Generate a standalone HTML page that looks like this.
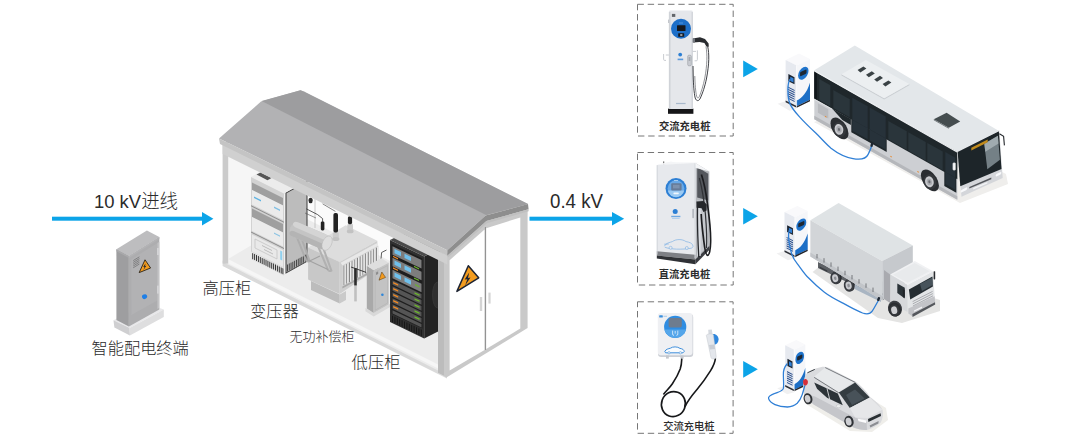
<!DOCTYPE html>
<html lang="zh-CN">
<head>
<meta charset="utf-8">
<title>充电站配电系统示意图</title>
<style>
html,body{margin:0;padding:0;background:#fff;}
body{width:1080px;height:439px;overflow:hidden;}
svg{display:block;}
text{font-family:"Liberation Sans","Noto Sans CJK SC",sans-serif;fill:#2b2b2b;}
.lt{font-weight:300;}
.md{font-weight:500;}
</style>
</head>
<body>
<svg width="1080" height="439" viewBox="0 0 1080 439">
<rect width="1080" height="439" fill="#ffffff"/>
<!-- building -->
<g>
  <!-- floor slab front thickness -->
  <polygon points="222.6,260.6 447,372.8 447,378.6 222.6,266" fill="#dadada"/>
  <!-- interior left wall + back wall -->
  <polygon points="227,143 301,100 301,216 227,262" fill="#f6f6f6"/>
  <polygon points="301,100 525,212 525,329 301,216" fill="#fbfbfb"/>
  <!-- floor -->
  <polygon points="223,262 301,216 525,329 447,375" fill="#ececec"/>
  <!-- white sill strip along the front of floor -->
  <polygon points="223,256.6 447,369 447,373 223,260.8" fill="#f6f6f6"/>
  <!-- left post -->
  <rect x="222.6" y="142" width="5.6" height="121.6" fill="#cbcbcb"/>
</g>

<!-- equip -->
<g>
  <!-- back wall details -->
  <line x1="315" y1="196" x2="315" y2="228" stroke="#bdbdbd" stroke-width="0.8"/>
  <ellipse cx="310.6" cy="200.5" rx="2.1" ry="2.7" fill="#2b2b2b"/>

  <!-- ===== HV cabinet ===== -->
  <g>
    <!-- right side face -->
    <g transform="matrix(1,-0.55,0,1,284,193.5)">
      <rect x="0" y="0" width="23" height="81" fill="#bcbcbc"/>
      <rect x="0" y="0" width="2" height="81" fill="#f1f1f1"/>
      <rect x="2" y="0.5" width="21" height="80" fill="none" stroke="#3c3c3c" stroke-width="1"/>
      <g fill="#3a3a3a">
        <rect x="3" y="73" width="0.9" height="7"/><rect x="4.8" y="73" width="0.9" height="7"/><rect x="6.6" y="73" width="0.9" height="7"/><rect x="8.4" y="73" width="0.9" height="7"/><rect x="10.2" y="73" width="0.9" height="7"/><rect x="12" y="73" width="0.9" height="7"/><rect x="13.8" y="73" width="0.9" height="7"/><rect x="15.6" y="73" width="0.9" height="7"/><rect x="17.4" y="73" width="0.9" height="7"/><rect x="19.2" y="73" width="0.9" height="7"/><rect x="21" y="73" width="0.9" height="7"/>
      </g>
    </g>
    <!-- top face -->
    <polygon points="251,177 273,164.8 307,180.8 284,193.5" fill="#ececec"/>
    <polygon points="256.5,174.6 260.5,172.4 271.5,178 267.5,180.2" fill="#555"/>
    <!-- front face -->
    <g transform="matrix(1,0.5,0,1,251,177)">
      <rect x="0" y="0" width="33" height="82" fill="#d2d2d2"/>
      <rect x="1" y="5" width="31" height="7.5" fill="#9f9f9f"/>
      <rect x="1" y="12.5" width="31" height="14.5" fill="#ebebeb"/>
      <rect x="3" y="18" width="7" height="1.6" fill="#5fb3e2"/>
      <rect x="23" y="18" width="6" height="1.4" fill="#7fbfe4"/>
      <rect x="0" y="28.2" width="33" height="1" fill="#8a8a8a"/>
      <rect x="1" y="31" width="31" height="8.5" fill="#9f9f9f"/>
      <rect x="1" y="39.5" width="31" height="14" fill="#ebebeb"/>
      <rect x="23" y="44" width="6" height="1.3" fill="#8cc4e4"/>
      <rect x="0" y="54.6" width="33" height="1" fill="#8a8a8a"/>
      <rect x="1" y="57" width="31" height="17" fill="#e9e9e9"/>
      <rect x="4" y="60" width="22" height="9" fill="none" stroke="#c4c4c4" stroke-width="0.7"/>
      <rect x="11" y="62.5" width="10" height="1" fill="#bdbdbd"/><rect x="13" y="65.5" width="9" height="1" fill="#bdbdbd"/>
      <rect x="29.2" y="59" width="2" height="9" fill="#8fd0ee"/>
      <rect x="0" y="74.5" width="33" height="7.5" fill="#e8e8e8"/>
      <g fill="#333">
        <rect x="1.2" y="75.3" width="1" height="6"/><rect x="3.1" y="75.3" width="1" height="6"/><rect x="5" y="75.3" width="1" height="6"/><rect x="6.9" y="75.3" width="1" height="6"/><rect x="8.8" y="75.3" width="1" height="6"/><rect x="10.7" y="75.3" width="1" height="6"/><rect x="12.6" y="75.3" width="1" height="6"/><rect x="14.5" y="75.3" width="1" height="6"/><rect x="16.4" y="75.3" width="1" height="6"/><rect x="18.3" y="75.3" width="1" height="6"/><rect x="20.2" y="75.3" width="1" height="6"/><rect x="22.1" y="75.3" width="1" height="6"/><rect x="24" y="75.3" width="1" height="6"/><rect x="25.9" y="75.3" width="1" height="6"/><rect x="27.8" y="75.3" width="1" height="6"/><rect x="29.7" y="75.3" width="1" height="6"/><rect x="31.4" y="75.3" width="1" height="6"/>
      </g>
    </g>
  </g>

  <!-- ===== Transformer ===== -->
  <g>
    <!-- wires -->
    <path d="M306.3,208.8 L317.6,214.6 L322.6,218.6 L322.6,222" fill="none" stroke="#333" stroke-width="0.8"/>
    <path d="M322.6,203.8 L335.4,211.4" fill="none" stroke="#555" stroke-width="0.7"/>
    <path d="M305,213 L316,218" fill="none" stroke="#555" stroke-width="0.6"/>
    <!-- main tank -->
    <polygon points="308.1,247.6 345.7,225.3 377.3,240.7 339.7,262" fill="#dddddd"/>
    <polygon points="308.1,247.6 339.7,262 339.7,294 308.1,279.6" fill="#c8c8c8"/>
    <polygon points="339.7,262 377.3,240.7 378.2,268 339.7,294" fill="#cecece"/>
    <polygon points="311,281 339.7,294.4 339.7,303.4 311,290" fill="#bcbcbc"/>
    <polygon points="339.7,294.4 346,291 346,300 339.7,303.4" fill="#cacaca"/>
    <!-- radiator block -->
    <polygon points="340.6,262.8 376.6,243.2 378.4,245.8 342.4,265.6" fill="#e8e8e8"/>
    <g transform="matrix(1,-0.55,0,1,342.4,265.6)">
      <rect x="0" y="0" width="36" height="21" fill="#d4d4d4"/>
      <g fill="#7d7d7d"><rect x="1.2" y="0.8" width="0.9" height="19.6"/><rect x="3.9" y="0.8" width="0.9" height="19.6"/><rect x="6.6" y="0.8" width="0.9" height="19.6"/><rect x="9.3" y="0.8" width="0.9" height="19.6"/><rect x="12.0" y="0.8" width="0.9" height="19.6"/><rect x="14.7" y="0.8" width="0.9" height="19.6"/><rect x="17.4" y="0.8" width="0.9" height="19.6"/><rect x="20.1" y="0.8" width="0.9" height="19.6"/><rect x="22.8" y="0.8" width="0.9" height="19.6"/><rect x="25.5" y="0.8" width="0.9" height="19.6"/><rect x="28.2" y="0.8" width="0.9" height="19.6"/><rect x="30.9" y="0.8" width="0.9" height="19.6"/><rect x="33.6" y="0.8" width="0.9" height="19.6"/></g>
      <g fill="#efefef"><rect x="2.2" y="0.8" width="0.9" height="19.6"/><rect x="4.9" y="0.8" width="0.9" height="19.6"/><rect x="7.6" y="0.8" width="0.9" height="19.6"/><rect x="10.3" y="0.8" width="0.9" height="19.6"/><rect x="13.0" y="0.8" width="0.9" height="19.6"/><rect x="15.7" y="0.8" width="0.9" height="19.6"/><rect x="18.4" y="0.8" width="0.9" height="19.6"/><rect x="21.1" y="0.8" width="0.9" height="19.6"/><rect x="23.8" y="0.8" width="0.9" height="19.6"/><rect x="26.5" y="0.8" width="0.9" height="19.6"/><rect x="29.2" y="0.8" width="0.9" height="19.6"/><rect x="31.9" y="0.8" width="0.9" height="19.6"/><rect x="34.6" y="0.8" width="0.9" height="19.6"/></g>
    </g>
    <polygon points="342.4,286.6 378.4,266.8 378.4,268.8 342.4,288.6" fill="#a9a9a9"/>
    <!-- bushing bases -->
    <rect x="332.8" y="232" width="6" height="6.6" rx="1.6" fill="#cbcbcb"/><ellipse cx="335.8" cy="239" rx="3.6" ry="2" fill="#c2c2c2"/>
    <rect x="347.4" y="223.6" width="5.6" height="7.4" rx="1.6" fill="#cbcbcb"/><ellipse cx="350.2" cy="231.4" rx="3.4" ry="1.9" fill="#c2c2c2"/>
    <!-- bushings -->
    <rect x="320.8" y="221.4" width="3.6" height="9" rx="1.4" fill="#232323"/>
    <rect x="333.4" y="213" width="4.6" height="19.6" rx="1.8" fill="#232323"/>
    <rect x="347.9" y="216.2" width="4.2" height="8" rx="1.6" fill="#232323"/>
    <!-- conservator supports -->
    <path d="M296.4,236 L305.6,259 Q306.6,262.4 309.6,261 M301.6,238.4 L309.6,261" stroke="#adadad" stroke-width="2" fill="none" stroke-linecap="round"/>
    <path d="M318.4,247 L327.6,269 Q328.8,272 331.4,270.6 M323.8,249.6 L331.4,270.6" stroke="#b1b1b1" stroke-width="2" fill="none" stroke-linecap="round"/>
    <path d="M309.6,261 L320,256 M305.6,259 L328,269.6" stroke="#a2a2a2" stroke-width="1.1" fill="none"/>
    <!-- conservator cylinder -->
    <g transform="rotate(23.4 310 235.8)">
      <rect x="288.6" y="228.2" width="42" height="15.2" rx="7.4" fill="#c4c4c4"/>
      <rect x="290" y="238" width="39" height="5.4" rx="3.6" fill="#b4b4b4"/>
      <rect x="289.6" y="228.2" width="40" height="5.6" rx="4" fill="#d4d4d4"/>
      <ellipse cx="328.6" cy="235.8" rx="4.6" ry="7.6" fill="#dedede" stroke="#b9b9b9" stroke-width="0.5"/>
    </g>
    <!-- pole in front of radiator -->
    <rect x="354.2" y="268" width="2.6" height="18" rx="0.8" fill="#2c2c2c"/>
    <rect x="354.2" y="285.4" width="2.6" height="16" fill="#c0c0c0"/>
    <path d="M351,267 L366.2,272.4" stroke="#2c2c2c" stroke-width="0.9" fill="none"/>
  </g>

  <!-- ===== compensation cabinet ===== -->
  <g>
    <path d="M381,259 L381.6,252.5 L386.5,250" stroke="#333" stroke-width="0.8" fill="none"/>
    <!-- base -->
    <polygon points="365.4,308 373.7,313 390.2,303.8 390.2,307 373.7,316.4 365.4,311.2" fill="#d9d9d9"/>
    <polygon points="366.8,266 381.3,258.3 388.7,262.7 373.7,270.4" fill="#dedede"/>
    <polygon points="366.8,266 373.7,270.4 373.7,313 366.8,308.6" fill="#a9a9a9"/>
    <polygon points="373.7,270.4 388.7,262.7 388.7,304.4 373.7,313" fill="#c3c3c3"/>
    <polygon points="375.2,272 387.6,265.6 387.6,303 375.2,310.2" fill="none" stroke="#b2b2b2" stroke-width="0.6"/>
    <rect x="376" y="272.4" width="2.2" height="2.6" fill="#8d8d8d" transform="skewY(-27)" style="transform-origin:376px 272.4px"/>
    <polygon points="381.8,272 385.6,277.4 379,280.2" fill="#f39a1e" stroke="#4a3312" stroke-width="0.5"/>
    <circle cx="382.4" cy="294.7" r="1.3" fill="#2f86d8"/>
  </g>

  <!-- ===== LV rack ===== -->
  <g>
    <!-- side face -->
    <polygon points="424.2,256.4 440,248.5 440,330.5 424.2,338.6" fill="#232323"/>
    <ellipse cx="437.5" cy="295" rx="5" ry="13" fill="#2f2f2f" stroke="#3d3d3d" stroke-width="0.6"/>
    <!-- top -->
    <polygon points="390,240 406,232 440,248.5 424.2,256.4" fill="#4a4a4a"/>
    <!-- front -->
    <g transform="matrix(1,0.48,0,1,390,240)">
      <rect x="0" y="0" width="34.2" height="82" fill="#303030"/>
      <rect x="1.5" y="3" width="31" height="70" fill="#1e1e1e"/>
      <!-- unit 1 -->
      <rect x="2.5" y="5" width="29" height="8.5" fill="#7d7d7d"/>
      <rect x="4.5" y="6.8" width="6.5" height="4.2" fill="#6fc0ec"/><rect x="14.5" y="6.8" width="6.5" height="4.2" fill="#6fc0ec"/>
      <rect x="3" y="14.3" width="5" height="1.3" fill="#f08a24"/><rect x="24" y="14.3" width="5" height="1.3" fill="#6cb52d"/>
      <!-- unit 2 -->
      <rect x="2.5" y="16.6" width="29" height="8.5" fill="#7d7d7d"/>
      <rect x="4.5" y="18.4" width="6.5" height="4.2" fill="#6fc0ec"/><rect x="14.5" y="18.4" width="6.5" height="4.2" fill="#6fc0ec"/>
      <rect x="3" y="25.9" width="5" height="1.3" fill="#f08a24"/><rect x="24" y="25.9" width="5" height="1.3" fill="#6cb52d"/>
      <!-- unit 3 -->
      <rect x="2.5" y="28.6" width="29" height="8.5" fill="#7d7d7d"/>
      <rect x="4.5" y="30.4" width="6.5" height="4.2" fill="#6fc0ec"/><rect x="14.5" y="30.4" width="6.5" height="4.2" fill="#6fc0ec"/>
      <rect x="25" y="32" width="4.5" height="1.3" fill="#6cb52d"/>
      <!-- small units -->
      <g>
        <rect x="2.5" y="39" width="29" height="4.6" fill="#555"/><rect x="3.2" y="40.4" width="5" height="1.5" fill="#f08a24"/><rect x="24.5" y="40.4" width="5" height="1.5" fill="#6cb52d"/>
        <rect x="2.5" y="45" width="29" height="4.6" fill="#555"/><rect x="3.2" y="46.4" width="5" height="1.5" fill="#f08a24"/><rect x="24.5" y="46.4" width="5" height="1.5" fill="#6cb52d"/>
        <rect x="2.5" y="51" width="29" height="4.6" fill="#555"/><rect x="3.2" y="52.4" width="5" height="1.5" fill="#f08a24"/><rect x="24.5" y="52.4" width="5" height="1.5" fill="#6cb52d"/>
        <rect x="2.5" y="57" width="29" height="4.6" fill="#555"/><rect x="3.2" y="58.4" width="5" height="1.5" fill="#f08a24"/><rect x="24.5" y="58.4" width="5" height="1.5" fill="#6cb52d"/>
        <rect x="2.5" y="63" width="29" height="4.6" fill="#555"/><rect x="3.2" y="64.4" width="5" height="1.5" fill="#f08a24"/><rect x="24.5" y="64.4" width="5" height="1.5" fill="#6cb52d"/>
        <rect x="2.5" y="69" width="29" height="3.4" fill="#555"/>
      </g>
      <!-- bottom vent -->
      <g fill="#161616">
        <rect x="2" y="74.5" width="1" height="6.5"/><rect x="4.4" y="74.5" width="1" height="6.5"/><rect x="6.8" y="74.5" width="1" height="6.5"/><rect x="9.2" y="74.5" width="1" height="6.5"/><rect x="11.6" y="74.5" width="1" height="6.5"/><rect x="14" y="74.5" width="1" height="6.5"/><rect x="16.4" y="74.5" width="1" height="6.5"/><rect x="18.8" y="74.5" width="1" height="6.5"/><rect x="21.2" y="74.5" width="1" height="6.5"/><rect x="23.6" y="74.5" width="1" height="6.5"/><rect x="26" y="74.5" width="1" height="6.5"/><rect x="28.4" y="74.5" width="1" height="6.5"/><rect x="30.8" y="74.5" width="1" height="6.5"/>
      </g>
    </g>
  </g>
</g>

<!-- shell -->
<g>
  <!-- right end wall -->
  <polygon points="438,251 444,254 444,375.8 438,372.8" fill="#bcbcbc"/>
  <polygon points="444,256 486.5,221 527.6,209.4 527.6,328 446.4,377.6 444,376" fill="#c9c9c9"/>
  <!-- doors -->
  <polygon points="449.6,260.2 484.6,229.4 484.6,350 449.6,370.5" fill="#ffffff"/>
  <polygon points="486.2,228.2 520.3,217.4 520.3,328.5 486.2,349" fill="#ffffff"/>
  <line x1="485.4" y1="227" x2="485.4" y2="350" stroke="#8d8d8d" stroke-width="1"/>
  <rect x="479.8" y="297" width="2.4" height="14" fill="#d4d4d4"/>
  <rect x="488.4" y="292.6" width="2.2" height="11" fill="#d4d4d4"/>
  <!-- hazard sign -->
  <g transform="translate(467.3,279)">
    <polygon points="1,-13.2 11.4,-1.2 -10.4,12.4" fill="#f39c1f" stroke="#1d2433" stroke-width="1.5" stroke-linejoin="round"/>
    <polygon points="1.9,-6.6 -2.6,0.6 0,0.2 -2.2,6.4 3.2,-1.6 0.7,-1.1" fill="#1d2433"/>
  </g>
  <!-- lintel beam under the eave -->
  <polygon points="222.6,143.6 447.3,255.4 447.3,264.4 228.2,156.8 222.6,154" fill="#d0d0d0"/>
  <!-- roof -->
  <polygon points="219,138.5 261,101.5 300.5,90.3 528,204 485.6,215.5 447.3,250.2" fill="#b2b2b4"/>
  <polygon points="261.6,101.1 300.5,90.3 304,91.6 528,204 486,215" fill="#9d9d9f"/>
  <!-- eave fascia -->
  <polygon points="219,138.5 447.3,250.2 447.3,255.8 220,144" fill="#c4c4c4"/>
  <!-- gable fascia -->
  <polygon points="447.3,250.2 485.6,215.5 528,204 528.6,209.3 486.5,221 447.3,255.8" fill="#8e8e8e"/>
  <polygon points="447.3,255.8 486.5,221 528.6,209.3 528.6,211.2 487,223.2 448,257.5" fill="#c0c0c0"/>
</g>

<!-- terminal -->
<g>
  <!-- plinth -->
  <polygon points="113.5,320.3 146,303 163.8,309.4 129.6,327.9" fill="#e8e8ea"/>
  <polygon points="113.5,320.3 129.6,327.9 129.9,335.4 114.4,327.4" fill="#cfcfd1"/>
  <polygon points="129.6,327.9 163.8,309.4 163.8,316.9 129.9,335.4" fill="#dededf"/>
  <!-- body -->
  <polygon points="116.4,249.2 146.9,230.4 159.3,236.9 128.9,256" fill="#bdbdbf"/>
  <polygon points="116.4,249.2 128.9,256 128.9,326.5 116.4,320" fill="#9e9ea0"/>
  <polygon points="128.9,256 159.3,236.9 159.3,309.4 128.9,326.5" fill="#adadaf"/>
  <!-- cap lip -->
  <polygon points="116.4,249.2 128.9,256 128.9,258 116.4,251.2" fill="#a9a9ab"/>
  <polygon points="128.9,256 159.3,236.9 159.3,239 128.9,258" fill="#b3b3b5"/>
  <!-- door -->
  <polygon points="131.4,259.4 157.4,243 157.4,300.6 131.4,315" fill="#b2b2b4"/>
  <polygon points="157.4,243 159.3,241.8 159.3,308 157.4,309" fill="#c3c3c5"/>
  <rect x="157.2" y="248" width="1.4" height="7" fill="#dadadc"/>
  <rect x="157.2" y="285.6" width="1.4" height="8" fill="#dadadc"/>
  <!-- vent -->
  <g stroke="#737375" stroke-width="0.8">
    <line x1="133.2" y1="260.6" x2="139.4" y2="256.8"/><line x1="133.2" y1="262.4" x2="139.4" y2="258.6"/><line x1="133.2" y1="264.2" x2="139.4" y2="260.4"/><line x1="133.2" y1="266" x2="139.4" y2="262.2"/><line x1="133.2" y1="267.8" x2="139.4" y2="264"/>
  </g>
  <!-- hazard -->
  <g transform="translate(144.6,266.4)">
    <polygon points="0.4,-6.6 6,1.6 -5.4,6.2" fill="#f39c1f" stroke="#2a2418" stroke-width="0.9" stroke-linejoin="round"/>
    <polygon points="1,-3.2 -1.4,0.6 0,0.3 -1.2,3.6 1.8,-0.6 0.4,-0.3" fill="#1d2433"/>
  </g>
  <ellipse cx="144.6" cy="296.7" rx="2.6" ry="2.3" fill="#1f7fe6" transform="rotate(-25 144.6 296.7)"/>
</g>

<!-- arrows -->
<g fill="#0ca4e8">
  <rect x="52" y="216.7" width="152" height="4"/>
  <polygon points="202,212 213.4,218.7 202,225.4"/>
  <rect x="529.5" y="216.7" width="84" height="4"/>
  <polygon points="612,212 624.2,218.7 612,225.4"/>
  <polygon points="743.2,60.6 757.8,68.9 743.2,77.3"/>
  <polygon points="743.2,207.9 757.8,216.3 743.2,224.6"/>
  <polygon points="743.2,361 757.8,369.3 743.2,377.7"/>
</g>

<!-- chargers -->
<g>
  <!-- dashed frames -->
  <g fill="none" stroke="#767676" stroke-width="1" stroke-dasharray="6.4 3.8">
    <rect x="637.5" y="4.3" width="95.7" height="131.7"/>
    <rect x="637.5" y="152.5" width="95.7" height="132.5"/>
    <rect x="637.5" y="301.8" width="95.6" height="131.5"/>
  </g>

  <!-- ===== charger 1 : AC pedestal ===== -->
  <g>
    <rect x="668" y="108.6" width="25.4" height="5.2" fill="#161618"/>
    <path d="M668.9,12 Q668.9,10.6 670.3,10.6 L691.4,10.6 Q692.8,10.6 692.8,12 L692.8,109 L668.9,109 Z" fill="#e5e7eb"/>
    <rect x="668.9" y="12" width="1.6" height="97" fill="#d0d3d8"/>
    <rect x="691.6" y="12" width="1.2" height="97" fill="#cfd2d7"/>
    <rect x="671.9" y="13.9" width="3.4" height="3" fill="#63666b"/>
    <rect x="668" y="19.6" width="1.2" height="3.4" fill="#c4c7cc"/>
    <!-- ring -->
    <circle cx="681" cy="28.7" r="10" fill="#1d6fc8"/>
    <rect x="677" y="25.2" width="8.5" height="5.8" rx="0.5" fill="#17191d"/>
    <rect x="678.2" y="33.2" width="6" height="3.6" rx="0.4" fill="#17191d"/>
    <rect x="680.2" y="34.4" width="2.2" height="1.2" fill="#e6eef7"/>
    <rect x="679" y="22.6" width="4" height="0.8" fill="#5fa0e2"/>
    <!-- logo -->
    <circle cx="680.2" cy="54.6" r="1.9" fill="#2c7fd4"/>
    <rect x="677.6" y="58.6" width="5.6" height="1.6" fill="#5d9bdc"/>
    <rect x="676" y="102.9" width="9.6" height="1.2" fill="#a9b9cc"/>
    <!-- left hook -->
    <path d="M668.9,55 L665.8,55 M663.6,54 L663.6,59.4 Q663.6,60.4 664.8,60.4 L666,60.4" fill="none" stroke="#c3c6cc" stroke-width="0.9"/>
    <!-- right hook -->
    <path d="M692.8,51.4 L696,51.4 M697.4,50.4 L697.4,59.6 Q697.4,60.8 696.2,60.8 L694.6,60.8" fill="none" stroke="#c3c6cc" stroke-width="0.9"/>
    <!-- holder -->
    <rect x="687.7" y="55.2" width="3.6" height="10.6" rx="1.2" fill="#c9ccd2" stroke="#8e9299" stroke-width="0.5"/>
    <rect x="688.7" y="57" width="1.6" height="4" fill="#a4a8af"/>
    <!-- gun -->
    <path d="M693,38.6 L700,37.2 L705,39 L708.6,43.4 L708.8,46.8 L706.4,46.4 L704.4,43 L699.6,42 L693.2,42.4 Z" fill="#2a2c30"/>
    <rect x="692.6" y="38.4" width="2.4" height="4.2" fill="#74787f"/>
    <!-- cable -->
    <path d="M707.6,46 C709.4,54 709.2,64 706.6,78 C704.8,87 702.6,93 700.4,98 C699,101.4 696.4,101.6 695.2,98 C694,93 693.4,84 693.2,76 L693,66" fill="none" stroke="#3f4146" stroke-width="1"/>
    <path d="M706,46.4 C707.4,55 707.2,65 704.8,78 C703.2,86 701.2,92 699.4,96.4 C698.4,98.6 697.2,98.4 696.6,96 C695.6,92 695,84 694.8,76" fill="none" stroke="#63666c" stroke-width="0.7"/>
  </g>

  <!-- ===== charger 2 : DC cabinet ===== -->
  <g>
    <rect x="663.3" y="161.4" width="0.9" height="4.4" fill="#444"/>
    <!-- side -->
    <polygon points="695.4,162.9 709.3,171.6 709.3,248 695.4,263" fill="#b3b6bb"/>
    <polygon points="697.2,167 708.2,173.8 708.2,200.6 697.2,197.6" fill="#54575d"/>
    <polygon points="697.2,200 708.2,203 708.2,246 697.2,256" fill="#c5c8cd"/>
    <!-- top -->
    <polygon points="656.8,165 671,161.6 709.3,171.6 695.4,162.9" fill="#f4f5f7"/>
    <polygon points="656.8,165 668,162.2 700,162.6 695.4,162.9" fill="#f4f5f7"/>
    <!-- front -->
    <polygon points="656.8,165 695.4,162.9 695.4,258.6 656.8,254.7" fill="#e7e9ed"/>
    <polygon points="656.8,251.2 695.4,254.8 695.4,259.6 656.8,255.6" fill="#7e8085"/>
    <polygon points="656.8,255.6 695.4,259.6 695.4,264.2 656.8,258.6" fill="#2f3135"/>
    <polygon points="695.4,259.6 709.3,246 709.3,250 695.4,264.2" fill="#3c3e43"/>
    <line x1="657.2" y1="165.2" x2="657.2" y2="254.6" stroke="#cdd0d6" stroke-width="0.8"/>
    <line x1="694.9" y1="163.4" x2="694.9" y2="258.4" stroke="#d4d7dc" stroke-width="0.8"/>
    <rect x="692.4" y="208.8" width="1.4" height="9.4" rx="0.6" fill="#a9adb4"/>
    <!-- ring -->
    <circle cx="676" cy="188.6" r="10.5" fill="#2d7fd4"/>
    <circle cx="676" cy="188.6" r="8.4" fill="#6aa9e6"/>
    <path d="M667.8,190.6 A8.4,8.4 0 0 0 684.2,190.6 Z" fill="#9ccaf2"/>
    <rect x="671.2" y="183.2" width="10.4" height="7.2" rx="0.9" fill="#667b98"/>
    <rect x="673" y="184.8" width="6.6" height="3.6" fill="#7d92ae"/>
    <rect x="673.4" y="192.6" width="5.4" height="1.6" rx="0.7" fill="#eef6fd"/>
    <rect x="674" y="180" width="4" height="0.8" fill="#b7d8f6"/>
    <!-- logo -->
    <circle cx="675.2" cy="211.4" r="2.5" fill="#2c7fd4"/>
    <rect x="671.2" y="215.8" width="9.2" height="1.4" fill="#6fa8e2"/>
    <rect x="672" y="218.2" width="7.6" height="0.8" fill="#a9cbed"/>
    <!-- car outline -->
    <path d="M664.4,246.2 C666,242.8 669.6,242.6 672.4,241.6 C675.6,239 682.4,238.8 686,241.6 C689.6,242.2 692.8,243.2 693.2,246.6 L691.4,248.2 M664.8,247.2 C670,249.4 682,249.8 691.4,248.2 M664.2,244.2 L668.8,244" fill="none" stroke="#7fb2e4" stroke-width="0.7"/>
    <circle cx="670.6" cy="247.8" r="1.5" fill="#e7e9ed" stroke="#7fb2e4" stroke-width="0.6"/>
    <circle cx="686.8" cy="248" r="1.5" fill="#e7e9ed" stroke="#7fb2e4" stroke-width="0.6"/>
    <!-- cables and gun -->
    <path d="M699,207 L699,256" fill="none" stroke="#d9dce1" stroke-width="3.4"/>
    <path d="M697.6,205 C697.2,220 697.8,240 698.8,257" fill="none" stroke="#24262a" stroke-width="1.3"/>
    <path d="M701.4,174.6 C704.6,184 706.2,194 707.6,205 C709.4,218 710.8,232 710.6,242 C710.4,250 709.4,255 707.6,255.4 C705.6,255.4 704.6,248 703.8,241 C702.8,232 701.6,224 701.2,214" fill="none" stroke="#1c1d20" stroke-width="1.7"/>
    <path d="M699.4,178 C702,188 704,200 705.4,214 C706.4,226 707.2,238 706.4,248" fill="none" stroke="#303236" stroke-width="1.2"/>
    <path d="M696.4,201.6 L703.4,201 L706.8,204.6 L706.6,210.6 L703.4,212 L701.6,208.2 L696.6,207.8 Z" fill="#25272b"/>
  </g>

  <!-- ===== charger 3 : wall box ===== -->
  <g>
    <rect x="658" y="314" width="35.2" height="43" rx="3.2" fill="#cdd0d6"/>
    <rect x="657.8" y="312.9" width="34.7" height="42.4" rx="3.2" fill="#eff0f3"/>
    <rect x="659.2" y="315.2" width="3.6" height="2.4" rx="0.6" fill="#3b8fdd"/>
    <rect x="663.4" y="315.8" width="3.6" height="0.9" fill="#9fc6ea"/>
    <circle cx="675.2" cy="326.9" r="11.1" fill="#2f8de2"/>
    <path d="M664.4,329.4 A11.1,11.1 0 0 0 686,329.4 Z" fill="#55a6ea"/>
    <rect x="668.6" y="318" width="13.2" height="9.4" rx="1.6" fill="#6e7c8e"/>
    <path d="M672.6,330.6 L672.6,334 Q672.6,335.4 674,335.4 M677.8,330.6 L677.8,334 Q677.8,335.4 676.4,335.4 M675.2,331 L675.2,333.6" fill="none" stroke="#e3f1fc" stroke-width="0.8"/>
    <!-- car outline -->
    <path d="M664.8,351.4 C666,349 668.4,348.8 670.4,348.2 C672.6,346.4 677.6,346.4 680,348.4 C682.4,348.8 684,349.6 684.2,351.6 L683,352.8 L665.6,352.8 Z" fill="#f9fbfd" stroke="#3f8fdc" stroke-width="1"/>
    <circle cx="669" cy="352.8" r="1.2" fill="#eaecf0" stroke="#5ea2e2" stroke-width="0.6"/>
    <circle cx="680.4" cy="352.8" r="1.2" fill="#eaecf0" stroke="#5ea2e2" stroke-width="0.6"/>
    <rect x="666" y="355.4" width="2.8" height="3.2" fill="#c4c7cd"/>
    <rect x="680.4" y="355.4" width="3.2" height="3.2" fill="#c4c7cd"/>
    <!-- cable -->
    <path d="M681.8,358.6 C681.6,364 681.2,366 680.2,369 C678,375 675.6,379 672.4,383.8 C669.6,388 666,391.2 663.4,394.4" fill="none" stroke="#17181a" stroke-width="1.6"/>
    <ellipse cx="673.4" cy="404.1" rx="11.9" ry="12.6" fill="none" stroke="#17181a" stroke-width="1.7" transform="rotate(20 673.4 404.1)"/>
    <path d="M685,406.6 C688,400 692.6,394.6 697.4,389 C702,383.4 706.6,377 710.6,370.6 C713.4,366 715,362.6 715.4,358.4" fill="none" stroke="#17181a" stroke-width="1.6"/>
    <!-- plug -->
    <path d="M708.2,329.8 L711.8,329.4 L712.6,334.6 L708.6,335 Z" fill="#d5d9df"/>
    <path d="M712.4,334 C716,333.4 718.6,336 718.6,339.6 C718.4,342.6 716.6,344.6 714.2,344.8 Z" fill="#2f86dc"/>
    <path d="M706.4,335.6 C706,333.8 713,333 713.4,335 L716.2,356.6 C716.4,359 711.6,359.8 711,357.6 Z" fill="#e4e7ec" stroke="#c2c6cd" stroke-width="0.5"/>
    <path d="M709,345 L714.4,344.4 L715,349 L709.8,349.6 Z" fill="#c9cdd4"/>
  </g>
</g>

<!-- stations -->
<g>
<polygon points="777.6,103.8 785.6,101.3 796.6,108.8 789.6,110.8" fill="#f0f0f1"/>
<polygon points="785.6,60.0 799.0,53.6 810.0,59.1 796.6,65.5" fill="#f9f9fb"/>
<g transform="matrix(1,0.5,0,1,785.6,60.0)">
<rect x="0" y="0" width="11" height="42.3" fill="#e6e9ef"/>
<rect x="2.75" y="12.69" width="6.16" height="7.19" fill="#1b2430"/>
<rect x="4.62" y="14.38" width="3.30" height="4.23" fill="#2f7fd6"/>
<rect x="2.20" y="25.38" width="6.82" height="1.10" fill="#2b4f8c"/>
<rect x="2.20" y="27.58" width="6.82" height="1.10" fill="#2b4f8c"/>
<rect x="2.20" y="29.78" width="6.82" height="1.10" fill="#2b4f8c"/>
<rect x="2.20" y="31.98" width="6.82" height="1.10" fill="#2b4f8c"/>
<rect x="2.20" y="34.18" width="6.82" height="1.10" fill="#2b4f8c"/>
<rect x="2.20" y="36.38" width="6.82" height="1.10" fill="#2b4f8c"/>
<rect x="0" y="40.50" width="11" height="1.8" fill="#2c2f36"/>
</g>
<g transform="matrix(1,-0.48,0,1,796.6,65.5)">
<rect x="0" y="0" width="13.4" height="42.3" fill="#f5f6f9"/>
<path d="M0,35.11 C6.03,35.11 10.05,32.15 13.4,23.69 L13.4,40.80 L0,40.80 Z" fill="#1d6fc6"/>
<ellipse cx="6.70" cy="11.00" rx="5.23" ry="5.92" fill="#1f74cc"/>
<rect x="3.48" y="8.46" width="6.43" height="4.23" rx="1" fill="#1e2732"/>
<rect x="0" y="40.70" width="13.4" height="1.6" fill="#20232a"/>
</g>
<line x1="796.6" y1="65.5" x2="796.6" y2="107.8" stroke="#ffffff" stroke-width="0.6"/>
</g>
<g>
<polygon points="776.5,253.5 784.5,251.0 794.9,258.2 787.9,260.2" fill="#f0f0f1"/>
<polygon points="784.5,212.0 797.3,205.9 807.7,211.1 794.9,217.2" fill="#f9f9fb"/>
<g transform="matrix(1,0.5,0,1,784.5,212.0)">
<rect x="0" y="0" width="10.4" height="40" fill="#e6e9ef"/>
<rect x="2.60" y="12.00" width="5.82" height="6.80" fill="#1b2430"/>
<rect x="4.37" y="13.60" width="3.12" height="4.00" fill="#2f7fd6"/>
<rect x="2.08" y="24.00" width="6.45" height="1.04" fill="#2b4f8c"/>
<rect x="2.08" y="26.08" width="6.45" height="1.04" fill="#2b4f8c"/>
<rect x="2.08" y="28.16" width="6.45" height="1.04" fill="#2b4f8c"/>
<rect x="2.08" y="30.24" width="6.45" height="1.04" fill="#2b4f8c"/>
<rect x="2.08" y="32.32" width="6.45" height="1.04" fill="#2b4f8c"/>
<rect x="2.08" y="34.40" width="6.45" height="1.04" fill="#2b4f8c"/>
<rect x="0" y="38.20" width="10.4" height="1.8" fill="#2c2f36"/>
</g>
<g transform="matrix(1,-0.48,0,1,794.9,217.2)">
<rect x="0" y="0" width="12.8" height="40" fill="#f5f6f9"/>
<path d="M0,33.20 C5.76,33.20 9.60,30.40 12.8,22.40 L12.8,38.50 L0,38.50 Z" fill="#1d6fc6"/>
<ellipse cx="6.40" cy="10.40" rx="4.99" ry="5.60" fill="#1f74cc"/>
<rect x="3.33" y="8.00" width="6.14" height="4.00" rx="1" fill="#1e2732"/>
<rect x="0" y="38.40" width="12.8" height="1.6" fill="#20232a"/>
</g>
<line x1="794.9" y1="217.2" x2="794.9" y2="257.2" stroke="#ffffff" stroke-width="0.6"/>
</g>
<g>
<polygon points="777.2,388.3 785.2,385.8 794.2,392.3 787.2,394.3" fill="#f0f0f1"/>
<polygon points="785.2,345.3 796.3,340.0 805.3,344.5 794.2,349.8" fill="#f9f9fb"/>
<g transform="matrix(1,0.5,0,1,785.2,345.3)">
<rect x="0" y="0" width="9" height="41.5" fill="#e6e9ef"/>
<rect x="2.25" y="12.45" width="5.04" height="7.06" fill="#1b2430"/>
<rect x="3.78" y="14.11" width="2.70" height="4.15" fill="#2f7fd6"/>
<rect x="1.80" y="24.90" width="5.58" height="1.08" fill="#2b4f8c"/>
<rect x="1.80" y="27.06" width="5.58" height="1.08" fill="#2b4f8c"/>
<rect x="1.80" y="29.22" width="5.58" height="1.08" fill="#2b4f8c"/>
<rect x="1.80" y="31.37" width="5.58" height="1.08" fill="#2b4f8c"/>
<rect x="1.80" y="33.53" width="5.58" height="1.08" fill="#2b4f8c"/>
<rect x="1.80" y="35.69" width="5.58" height="1.08" fill="#2b4f8c"/>
<rect x="0" y="39.70" width="9" height="1.8" fill="#2c2f36"/>
</g>
<g transform="matrix(1,-0.48,0,1,794.2,349.8)">
<rect x="0" y="0" width="11.1" height="41.5" fill="#f5f6f9"/>
<path d="M0,34.45 C5.00,34.45 8.32,31.54 11.1,23.24 L11.1,40.00 L0,40.00 Z" fill="#1d6fc6"/>
<ellipse cx="5.55" cy="10.79" rx="4.33" ry="5.81" fill="#1f74cc"/>
<rect x="2.89" y="8.30" width="5.33" height="4.15" rx="1" fill="#1e2732"/>
<rect x="0" y="39.90" width="11.1" height="1.6" fill="#20232a"/>
</g>
<line x1="794.2" y1="349.8" x2="794.2" y2="391.3" stroke="#ffffff" stroke-width="0.6"/>
</g>
<!-- bus -->
<g>
  <!-- shadow -->
  <polygon points="814,122 960,203 1008,184 1006,174 870,104" fill="#efeeec"/>
  <!-- side body -->
  <g transform="matrix(1,0.563,0,1,814.3,70.3)">
    <rect x="0" y="0" width="143" height="49" fill="#cdcfd3"/>
    <rect x="0" y="0" width="143" height="1.2" fill="#eef0f2"/>
    <rect x="0" y="1" width="143" height="27.4" fill="#1f272b"/>
    <!-- rear corner -->
    <rect x="0" y="1" width="2.6" height="27" fill="#10161a"/>
    <rect x="3.6" y="31" width="10.4" height="9.4" fill="#b9bbbf"/>
    <rect x="0" y="28.4" width="18" height="1" fill="#e4e6e8"/>
    <!-- window glass tint -->
    <rect x="5" y="6" width="11" height="21" fill="#2c373d"/>
    <rect x="19" y="9" width="16.4" height="18" fill="#2a353b"/>
    <rect x="38" y="6" width="15.4" height="33" fill="#27323a"/>
    <rect x="55.4" y="6" width="16" height="33" fill="#27323a"/>
    <rect x="74" y="9" width="18.4" height="18.4" fill="#2a353b"/>
    <rect x="94" y="9" width="17.4" height="18.4" fill="#2a353b"/>
    <rect x="113" y="9" width="15.4" height="18.4" fill="#2a353b"/>
    <rect x="131" y="8" width="10" height="32" fill="#27323a"/>
    <!-- doors lower -->
    <rect x="37" y="28" width="35.4" height="13" fill="#1f272b"/>
    <rect x="38" y="28" width="15.4" height="11" fill="#27323a"/><rect x="55.4" y="28" width="16" height="11" fill="#27323a"/>
    <rect x="130" y="28" width="12" height="14.6" fill="#1f272b"/>
    <rect x="131" y="28" width="10" height="12" fill="#27323a"/>
    <polygon points="18,28.2 36.6,28.2 36.6,34 28,34" fill="#1f272b"/>
    <!-- skirt -->
    <rect x="0" y="45.4" width="143" height="3.6" fill="#b5b7bb"/>
    <rect x="10.6" y="39.6" width="1.6" height="1" fill="#e8862a"/>
    <rect x="76" y="42.6" width="1.6" height="1" fill="#e8862a"/>
    <rect x="103" y="42.6" width="1.6" height="1" fill="#e8862a"/>
    <!-- wheel arches -->
    <ellipse cx="25.2" cy="44" rx="9" ry="9.6" fill="#2a2d31"/>
    <ellipse cx="115.6" cy="45" rx="9" ry="9.6" fill="#2a2d31"/>
  </g>
  <!-- wheels -->
  <g>
    <ellipse cx="839.6" cy="129.4" rx="6.4" ry="7.8" fill="#34373b" transform="rotate(-14 839.6 129.4)"/>
    <ellipse cx="839" cy="129.4" rx="4.3" ry="5.5" fill="#c9cace" transform="rotate(-14 839 129.4)"/>
    <ellipse cx="839" cy="129.4" rx="2.6" ry="3.4" fill="#a9abb0" transform="rotate(-14 839 129.4)"/>
    <ellipse cx="839" cy="129.4" rx="1.1" ry="1.5" fill="#6d6f74" transform="rotate(-14 839 129.4)"/>
    <ellipse cx="930" cy="181.8" rx="6.4" ry="7.8" fill="#34373b" transform="rotate(-14 930 181.8)"/>
    <ellipse cx="929.4" cy="181.8" rx="4.3" ry="5.5" fill="#c9cace" transform="rotate(-14 929.4 181.8)"/>
    <ellipse cx="929.4" cy="181.8" rx="2.6" ry="3.4" fill="#a9abb0" transform="rotate(-14 929.4 181.8)"/>
    <ellipse cx="929.4" cy="181.8" rx="1.1" ry="1.5" fill="#6d6f74" transform="rotate(-14 929.4 181.8)"/>
  </g>
  <!-- front face -->
  <g transform="matrix(1,-0.506,0,1,957.3,151.4)">
    <polygon points="0,0 42,0 45.4,49.6 4.2,47.4" fill="#d4d6da"/>
    <polygon points="0.4,0.8 41.6,0.8 44.2,40 3,36.4" fill="#1d2529"/>
    <polygon points="27,6 40.6,5 42.6,30 30,33" fill="#8b979d" opacity="0.8"/>
    <polygon points="27,6 40.6,5 41.2,13 28,14.6" fill="#b4bdc2" opacity="0.7"/>
    <rect x="14" y="3.4" width="16.4" height="2.8" fill="#c08a1c"/>
    <rect x="3.4" y="40.6" width="6.6" height="2.6" rx="1.2" fill="#f8f9fb"/>
    <rect x="38.4" y="42.4" width="5.6" height="2.6" rx="1.2" fill="#f8f9fb"/>
    <polygon points="12,41.6 34,43.4 34,45 12,43.2" fill="#55585d"/>
    <polygon points="16,44.6 30,45.8 30,47.4 16,46.2" fill="#f2f3f5"/>
  </g>
  <!-- mirrors -->
  <rect x="952.8" y="162.8" width="2.8" height="7.4" rx="1" fill="#f4f5f7" stroke="#b9babd" stroke-width="0.4"/>
  <path d="M999.4,133.8 L1003.6,136.4 L1004.4,145.4" fill="none" stroke="#23272b" stroke-width="1.1"/>
  <!-- roof -->
  <polygon points="814.3,70.3 854.8,45.6 999,131 957.3,151.6" fill="#e3e7ea"/>
  <polygon points="814.3,70.3 957.3,151.6 957.3,152.8 814.3,71.5" fill="#f1f3f5"/>
  <!-- AC unit -->
  <polygon points="841.5,75.6 884.2,99.6 909.3,85.2 909.3,83.9 884.2,98.2 841.5,74.3" fill="#cbcfd3"/>
  <polygon points="841.5,74.3 865.9,59.9 909.3,83.9 884.2,98.2" fill="#eceff1"/>
  <g fill="#3a4245">
    <polygon points="857.6,70 863.4,66.4 866.4,68.6 860.4,72.4"/>
    <polygon points="866,74.8 871.8,71.2 874.8,73.4 868.8,77.2"/>
    <polygon points="874.2,79.4 880,75.8 883,78 877,81.8"/>
    <polygon points="882.6,84 888.4,80.4 891.4,82.6 885.4,86.4"/>
  </g>
  <!-- hatch -->
  <polygon points="933.8,119.2 946.6,112.8 960.2,121.4 948.8,127.8" fill="#454d4f"/>
  <polygon points="933.8,119.2 948.8,127.8 948.8,128.8 933.8,120.2" fill="#6b7275"/>
</g>

<!-- truck -->
<g>
  <!-- shadow -->
  <polygon points="812.6,272 824,263 940,300 940,311 902,323 878,318" fill="#e4e4e3"/>
  <!-- chassis -->
  <polygon points="818,262 884,294 884,300 818,268" fill="#5d6065"/>
  <polygon points="819.6,266.4 827.4,270.4 827.4,272 819.6,268" fill="#3a3d42"/>
  <!-- rear wheels -->
  <g>
    <ellipse cx="836.4" cy="277.6" rx="5.2" ry="6.4" fill="#25282c" transform="rotate(-14 836.4 277.6)"/>
    <ellipse cx="835.4" cy="278.2" rx="5" ry="6.2" fill="#3a3d42" transform="rotate(-14 835.4 278.2)"/>
    <ellipse cx="835.2" cy="278.2" rx="3" ry="4" fill="#c9cace" transform="rotate(-14 835.2 278.2)"/>
    <ellipse cx="835.2" cy="278.2" rx="1.3" ry="1.8" fill="#8d8f94" transform="rotate(-14 835.2 278.2)"/>
    <ellipse cx="849.8" cy="285" rx="5.2" ry="6.4" fill="#25282c" transform="rotate(-14 849.8 285)"/>
    <ellipse cx="848.8" cy="285.6" rx="5" ry="6.2" fill="#3a3d42" transform="rotate(-14 848.8 285.6)"/>
    <ellipse cx="848.6" cy="285.6" rx="3" ry="4" fill="#c9cace" transform="rotate(-14 848.6 285.6)"/>
    <ellipse cx="848.6" cy="285.6" rx="1.3" ry="1.8" fill="#8d8f94" transform="rotate(-14 848.6 285.6)"/>
  </g>
  <!-- side rail w/ tank -->
  <polygon points="854.6,284.6 881,297.6 881,302 854.6,289" fill="#a9b5c2"/>
  <polygon points="854.6,284.6 858,282.8 884,295.8 881,297.6" fill="#c5ced8"/>
  <!-- cargo box -->
  <polygon points="810.4,220.2 838.6,203 912.8,245.6 882.2,261" fill="#dfe3e5"/>
  <polygon points="810.4,220.2 882.2,261 882.2,300.4 810.4,256.6" fill="#d2d5d8"/>
  <polygon points="882.2,261 912.8,245.6 912.8,276 882.2,300.4" fill="#c6c9cd"/>
  <!-- box bottom trim w/ tie hooks -->
  <polygon points="810.4,252.6 882.2,296 882.2,300.4 810.4,256.6" fill="#c2c5c9"/>
  <g stroke="#5d5f64" stroke-width="0.8">
    <line x1="817" y1="254" x2="817" y2="258.4"/><line x1="824" y1="258.2" x2="824" y2="262.6"/><line x1="831" y1="262.4" x2="831" y2="266.8"/><line x1="838" y1="266.6" x2="838" y2="271"/><line x1="845" y1="270.8" x2="845" y2="275.2"/><line x1="852" y1="275" x2="852" y2="279.4"/><line x1="859" y1="279.2" x2="859" y2="283.6"/><line x1="866" y1="283.4" x2="866" y2="287.8"/><line x1="873" y1="287.6" x2="873" y2="292"/>
  </g>
  <!-- cab -->
  <polygon points="890.1,274.6 907.7,284.8 907.7,312 890.1,303" fill="#d6d8db"/>
  <polygon points="907.7,284.8 933,271.2 934.8,300 907.7,313" fill="#e3e5e7"/>
  <polygon points="890.1,274.6 914.8,261 933,271.2 907.7,284.8" fill="#f0f1f3"/>
  <polygon points="893,274.8 914.6,263 929.6,271.2 907.6,282.8" fill="#e8eaec"/>
  <!-- cab back gap -->
  <polygon points="884,270 890.1,274.6 890.1,303 884,299" fill="#a9aaaf"/>
  <!-- door window -->
  <polygon points="897.3,283.6 904.8,287.8 904.8,298.6 897.3,293" fill="#2b3338"/>
  <rect x="902.8" y="289.4" width="2" height="8" rx="0.6" fill="#1f2327"/>
  <!-- windshield -->
  <polygon points="908.9,289.4 932.4,276.6 932.9,286.6 910.2,299.4" fill="#252d32"/>
  <polygon points="920,284 932.4,277.4 932.8,285 922,291" fill="#56646c" opacity="0.7"/>
  <rect x="933.6" y="271.2" width="1.6" height="8.2" rx="0.6" fill="#2a2d31"/>
  <!-- grille -->
  <g stroke="#9a9ca1" stroke-width="0.8">
    <line x1="912.6" y1="301.6" x2="932.6" y2="291.4"/><line x1="912.8" y1="303.8" x2="932.8" y2="293.6"/><line x1="913" y1="306" x2="933" y2="295.8"/>
  </g>
  <polygon points="908.4,308.4 934.6,296.2 935.2,302.6 912.4,316.6 908.4,313.6" fill="#c3c4c8"/>
  <polygon points="912.4,314 935,302.2 935.2,304.4 912.6,317" fill="#54575c"/>
  <polygon points="914,310.4 922,306.6 922,308 914,311.8" fill="#f4f4f6"/>
  <!-- front wheel -->
  <ellipse cx="895" cy="308.6" rx="7" ry="8" fill="#3a3d42" transform="rotate(-14 895 308.6)"/>
  <ellipse cx="894.8" cy="309.6" rx="6.2" ry="7" fill="#2a2d31" transform="rotate(-14 894.8 309.6)"/>
  <ellipse cx="894.6" cy="310.2" rx="4.8" ry="5.8" fill="#34373b" transform="rotate(-14 894.6 310.2)"/>
  <ellipse cx="894.2" cy="310.2" rx="3" ry="3.9" fill="#cdced2" transform="rotate(-14 894.2 310.2)"/>
</g>

<!-- car -->
<g>
  <!-- shadow -->
  <path d="M806,404 L850,431 L872,432 L888,420 L886,408 L860,392 Z" fill="#efeeea"/>
  <!-- body -->
  <path d="M803.4,392 C802.6,385 803.6,377 807,373 C810,370.4 815,368.2 820.6,367.2 C823.6,366.4 826,366.6 829,368 L855.4,381.6 C861,385.4 866,391 870.4,397.2 C875,400.6 880.4,405 882.6,410 C883.6,414 882.6,419 880.8,422.6 C877,426 872,428.6 867,430 C862.6,430.4 858,429.4 853.6,427.6 L813.6,404.6 C809,402 804.6,397.6 803.4,392 Z" fill="#dadbde"/>
  <!-- lower side shade -->
  <path d="M804,394 L813.6,404.6 L853.6,427.6 C858,429.4 862.6,430.4 867,430 L866.6,421.6 L852,416 L815,396.4 Z" fill="#c5c6ca"/>
  <!-- roof -->
  <polygon points="814.2,376.4 825.2,367.6 854,382 838.6,392.2" fill="#e7e9eb"/>
  <path d="M814.2,377.4 L838.8,392.8 M825.2,367.6 L855.2,382.4" stroke="#4a4f54" stroke-width="0.7" fill="none"/>
  <!-- windshield -->
  <polygon points="838.8,392.4 855.2,382.4 869.8,397.4 849.8,408" fill="#343c41"/>
  <polygon points="846,395 855,389.4 864.6,398.6 852,405" fill="#4d585f" opacity="0.8"/>
  <!-- side windows -->
  <polygon points="814.2,382.4 837.8,393.6 842.8,405.2 827,397.8 817,388.8" fill="#2c3338"/>
  <line x1="827" y1="388.4" x2="829.6" y2="399" stroke="#dadbde" stroke-width="0.9"/>
  <!-- hood -->
  <polygon points="849.8,408 869.8,397.4 882.4,409.8 867.6,418 855.2,417.6" fill="#e6e7e9"/>
  <!-- grille / lights -->
  <polygon points="868,419 880.6,413.2 881,416 868.4,422" fill="#2a3034"/>
  <polygon points="857.6,418.4 866.4,420.4 866,423 858.6,421.2" fill="#fbfbfc"/>
  <polygon points="869.6,425.4 878.6,421 878.4,423.6 870.4,427.6" fill="#8b8d92"/>
  <!-- mirror -->
  <ellipse cx="838.6" cy="406.2" rx="2.4" ry="1.6" fill="#eceded" stroke="#a9abb0" stroke-width="0.4"/>
  <!-- tail light -->
  <path d="M803.2,380.6 C804.6,378 807.4,378.6 807.9,381.6 C808.2,384 806.8,386 804.4,385.6 C803.2,384.6 802.8,382.4 803.2,380.6 Z" fill="#d62f3a"/>
  <path d="M807.4,372.8 L814.8,369.4" stroke="#3a3f44" stroke-width="1" fill="none"/>
  <!-- wheels -->
  <ellipse cx="808" cy="398.8" rx="4.4" ry="5.6" fill="#2e3135" transform="rotate(-14 808 398.8)"/>
  <ellipse cx="807.6" cy="398.8" rx="2.8" ry="3.8" fill="#cfd0d4" transform="rotate(-14 807.6 398.8)"/>
  <ellipse cx="849" cy="421.6" rx="4.6" ry="5.8" fill="#2e3135" transform="rotate(-14 849 421.6)"/>
  <ellipse cx="848.6" cy="421.6" rx="2.9" ry="3.9" fill="#cfd0d4" transform="rotate(-14 848.6 421.6)"/>
</g>

<!-- cables -->
<g fill="none" stroke="#2f7fd6" stroke-width="1.3" stroke-linecap="round" stroke-linejoin="round">
<path d="M789.8,79.5 C787.4,84 787.4,94 789,101 C790.4,107 795,112 800,117.4 C806,124 811,128.6 815.5,132.8 C822,139 826,144 831,148.2 C838,153.6 846,157.4 853,158.6 C860,159.8 865.6,159.6 868,154.6 C869.6,151.6 870.8,148.6 871.7,146"/>
<path d="M789.2,230.4 C787.6,236 789.4,245 790.8,250.6 C792,256.4 794,259.8 797.2,263.6 C801,268.4 804,273.4 808.4,277.8 C813.4,283 818.4,287.6 824.4,292.2 C830.4,296.8 836.4,299.8 843.4,303.4 C850,306.8 856,310.4 862.6,313 C867.4,314.6 870.4,313.8 872.2,311.2 C874.6,307.6 876.6,303.6 878.5,300.2"/>
<path d="M787,364 C784.4,367 783.2,371 783.4,375 C783.4,380 784,385 783.4,388.4 C782.4,391.4 778.4,392 774.8,393.4 C770.4,395 768,396.6 768.6,398.6 C769.4,401.4 772,403.2 775,404.6 C779,406.4 783.4,407 787.4,407 C791.4,406.8 794.6,405.6 797.2,403.2 C799.6,400.8 801.2,397.6 802.2,394.6 C803.2,391.4 804,388.6 804.7,386"/>
</g>
<rect x="870.6" y="142.8" width="2.4" height="4" rx="0.8" fill="#1e2732" transform="rotate(14 871.8 144.8)"/>
<rect x="877.4" y="297" width="2.4" height="4" rx="0.8" fill="#1e2732" transform="rotate(20 878.6 299)"/>

<!-- labels -->
<g class="lt">
  <text x="94" y="208" font-size="19" textLength="84" lengthAdjust="spacingAndGlyphs">10 kV进线</text>
  <text x="550" y="208" font-size="19.5" textLength="53" lengthAdjust="spacingAndGlyphs">0.4 kV</text>
  <text x="91.6" y="354.3" font-size="16.2">智能配电终端</text>
  <text x="202.4" y="294.3" font-size="16.3">高压柜</text>
  <text x="250" y="317" font-size="16.3">变压器</text>
  <text x="289.6" y="341.4" font-size="13">无功补偿柜</text>
  <text x="351.6" y="368.4" font-size="16.3">低压柜</text>
</g>
<g text-anchor="middle" font-size="10.3" font-weight="700">
  <text x="684.7" y="130">交流充电桩</text>
  <text x="684.5" y="278.2">直流充电桩</text>
  <text x="688.9" y="430.3" font-weight="500">交流充电桩</text>
</g>

</svg>
</body>
</html>
